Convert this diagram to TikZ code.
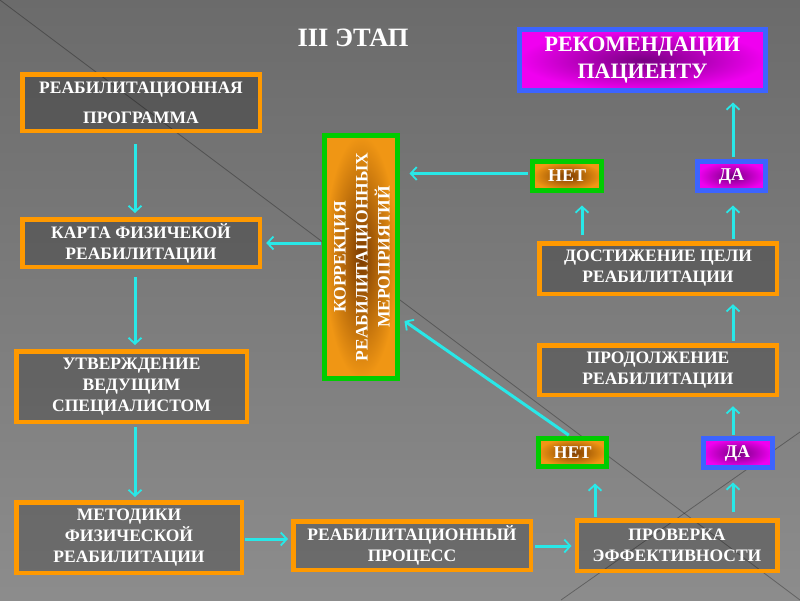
\documentclass[tikz,border=0pt]{standalone}
\usepackage{fontspec}
\setmainfont{Liberation Serif}
\usetikzlibrary{arrows.meta}
\definecolor{orng}{RGB}{255,153,0}
\definecolor{cyanc}{RGB}{40,232,232}
\definecolor{grn}{RGB}{0,204,0}
\definecolor{blu}{RGB}{60,100,255}
\definecolor{magc}{RGB}{240,0,240}
\definecolor{purc}{RGB}{120,0,130}
\definecolor{orfill}{RGB}{240,150,20}
\definecolor{brownc}{RGB}{125,60,0}
\begin{document}
\begin{tikzpicture}[x=1pt,y=-1pt,
  box/.style={draw=orng, line width=4.5pt, fill=black, fill opacity=0.22, text opacity=1,
    text=white, font=\bfseries\fontsize{17.5}{21}\selectfont, align=center, inner sep=0pt},
  netbox/.style={draw=grn, line width=5pt, inner color=brownc, outer color=orfill,
    text=white, font=\bfseries\fontsize{18}{21}\selectfont, inner sep=0pt},
  dabox/.style={draw=blu, line width=5pt, inner color=purc, outer color=magc,
    text=white, font=\bfseries\fontsize{18}{21}\selectfont, inner sep=0pt},
  arr/.style={draw=cyanc, line width=3pt, -{Straight Barb[length=6pt,width=13pt,line width=1.8pt]}},
  bgline/.style={draw=black, opacity=0.3, line width=0.8pt}
]
\useasboundingbox (0,0) rectangle (800,600);
\shade[top color=black!58, middle color=black!73, bottom color=black!45] (0,0) rectangle (800,600);
\draw[bgline] (0,0) -- (800,600);
\draw[bgline] (800,432) -- (561,600);

\node[font=\bfseries\fontsize{26.5}{30}\selectfont, text=white] (title) at (353,38) {III ЭТАП};

\node[box, minimum width=237.5pt, minimum height=56.5pt] (b1) at (141,102.5) {РЕАБИЛИТАЦИОННАЯ\\[9pt]ПРОГРАММА};
\node[box, minimum width=237.5pt, minimum height=47.5pt] (b2) at (141,243) {КАРТА ФИЗИЧЕКОЙ\\РЕАБИЛИТАЦИИ};
\node[box, minimum width=230.5pt, minimum height=70.5pt] (b3) at (131.5,386.5) {УТВЕРЖДЕНИЕ\\ВЕДУЩИМ\\СПЕЦИАЛИСТОМ};
\node[box, minimum width=225.5pt, minimum height=70.5pt] (b4) at (129,537.5) {МЕТОДИКИ\\ФИЗИЧЕСКОЙ\\РЕАБИЛИТАЦИИ};
\node[box, minimum width=237.5pt, minimum height=48.5pt] (b5) at (412,545.5) {РЕАБИЛИТАЦИОННЫЙ\\ПРОЦЕСС};
\node[box, minimum width=200.5pt, minimum height=50.5pt] (b6) at (677,545.5) {ПРОВЕРКА\\ЭФФЕКТИВНОСТИ};
\node[box, minimum width=237.5pt, minimum height=49.5pt] (prod) at (658,370) {ПРОДОЛЖЕНИЕ\\РЕАБИЛИТАЦИИ};
\node[box, minimum width=237.5pt, minimum height=50.5pt] (dost) at (658,268.5) {ДОСТИЖЕНИЕ ЦЕЛИ\\РЕАБИЛИТАЦИИ};

\node[netbox, minimum width=68pt, minimum height=28pt] (net2) at (572.5,452.5) {НЕТ};
\node[dabox, minimum width=69pt, minimum height=29pt] (da2) at (737.5,453) {ДА};
\node[netbox, minimum width=69pt, minimum height=29pt] (net1) at (567,176) {НЕТ};
\node[dabox, minimum width=68pt, minimum height=29pt] (da1) at (731.5,176) {ДА};
\node[dabox, minimum width=246pt, minimum height=61pt, align=center,
  font=\bfseries\fontsize{22}{27}\selectfont] (rec) at (642.5,60) {РЕКОМЕНДАЦИИ\\ПАЦИЕНТУ};

\node[netbox, minimum width=73pt, minimum height=243pt] (korr) at (361,257) {};
\node[rotate=90, text=white, align=center, inner sep=0pt,
  font=\bfseries\fontsize{17.5}{22}\selectfont] (korrtxt) at (362,257) {КОРРЕКЦИЯ\\РЕАБИЛИТАЦИОННЫХ\\МЕРОПРИЯТИЙ};

\draw[arr, shorten <=11pt, shorten >=4pt] ([xshift=-6pt]b1.south) -- ([xshift=-6pt]b2.north);
\draw[arr, shorten <=8pt, shorten >=4pt] ([xshift=-6pt]b2.south) -- ([xshift=3.5pt]b3.north);
\draw[arr, shorten <=3pt, shorten >=3pt] ([xshift=3.5pt]b3.south) -- ([xshift=6pt]b4.north);
\draw[arr, shorten <=1pt, shorten >=3pt] ([yshift=-1.5pt]b4.east) -- ([yshift=6.5pt]b5.west);
\draw[arr, shorten <=2pt, shorten >=3pt] ([yshift=-0.5pt]b5.east) -- ([yshift=-0.5pt]b6.west);
\draw[arr, shorten <=1.25pt, shorten >=14.5pt] ([xshift=-82pt]b6.north) -- ([xshift=22.5pt]net2.south);
\draw[arr, shorten <=6.25pt, shorten >=12.5pt] ([xshift=56pt]b6.north) -- ([xshift=-4.5pt]da2.south);
\draw[arr, shorten <=1.5pt] ([xshift=-2.5pt]net2.north) -- ([xshift=4.5pt,yshift=-64pt]korr.east);
\draw[arr, shorten <=1.5pt, shorten >=9.25pt] ([xshift=-4.5pt]da2.north) -- ([xshift=75pt]prod.south);
\draw[arr, shorten <=2.25pt, shorten >=8.25pt] ([xshift=75pt]prod.north) -- ([xshift=75pt]dost.south);
\draw[arr, shorten <=6.25pt, shorten >=12.5pt] ([xshift=-76pt]dost.north) -- ([xshift=15pt]net1.south);
\draw[arr, shorten <=2.25pt, shorten >=12.5pt] ([xshift=75pt]dost.north) -- ([xshift=1.5pt]da1.south);
\draw[arr, shorten <=2.5pt, shorten >=9.5pt] ([xshift=1.5pt]da1.north) -- ([xshift=90.5pt]rec.south);
\draw[arr, shorten <=2.5pt, shorten >=9.5pt] ([yshift=2.5pt]net1.west) -- ([yshift=83.5pt]korr.east);
\draw[arr, shorten <=1.5pt, shorten >=4.25pt] ([yshift=14pt]korr.west) -- (b2.east);
\end{tikzpicture}
\end{document}
